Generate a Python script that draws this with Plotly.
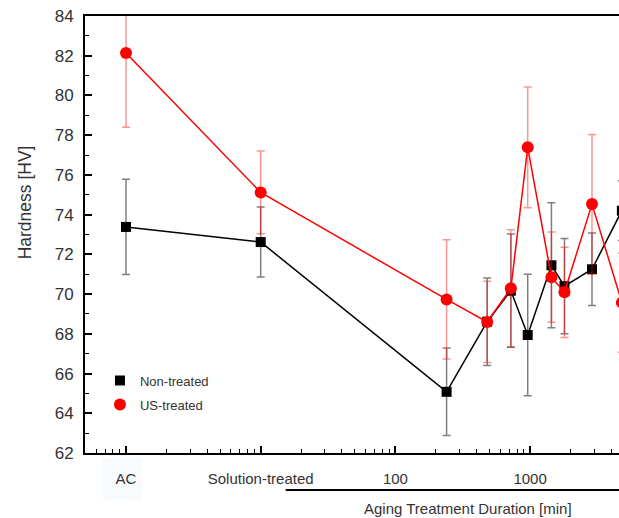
import plotly.graph_objects as go

# Data (x in minutes; AC and Solution-treated placed at 1 and 10 on log axis)
x_vals = [1, 10, 240, 480, 720, 960, 1440, 1800, 2880, 4800]
non_treated = [73.38, 72.62, 65.08, 68.61, 70.17, 67.94, 71.45, 70.40, 71.25, 74.20]
non_treated_err = [2.40, 1.76, 2.20, 2.20, 2.85, 3.06, 3.15, 2.40, 1.83, 1.50]
us_treated = [82.14, 75.12, 69.73, 68.60, 70.29, 77.39, 70.85, 70.09, 74.53, 69.57]
us_treated_err = [3.74, 2.08, 3.00, 2.05, 2.95, 3.04, 2.27, 2.27, 3.50, 2.50]

x_tickvals = [1, 10, 100, 1000]
x_ticktext = ["AC", "Solution-treated", "100", "1000"]
x_minor = [0.6, 0.7, 0.8, 0.9, 2, 3, 4, 5, 6, 7, 8, 9,
           20, 30, 40, 50, 60, 70, 80, 90, 200, 300, 400, 500, 600, 700, 800, 900,
           2000, 3000, 4000]
y_tickvals = list(range(62, 85, 2))
y_minor = list(range(63, 85, 2))

FONT = "Liberation Sans, Arial, sans-serif"

fig = go.Figure()

fig.add_trace(go.Scatter(
    x=x_vals, y=non_treated, mode="lines+markers", showlegend=False,
    line=dict(color="black", width=1.5),
    marker=dict(symbol="square", size=10, color="black"),
    error_y=dict(type="data", array=non_treated_err, visible=True,
                 color="rgba(0,0,0,0.5)", thickness=1.5, width=4),
))
fig.add_trace(go.Scatter(
    x=x_vals, y=us_treated, mode="lines+markers", showlegend=False,
    line=dict(color="#ff0000", width=1.5),
    marker=dict(symbol="circle", size=12, color="#ff0000"),
    error_y=dict(type="data", array=us_treated_err, visible=True,
                 color="rgba(255,0,0,0.42)", thickness=1.5, width=4),
))
# legend entries (markers only)
fig.add_trace(go.Scatter(
    x=[None], y=[None], mode="markers", name="Non-treated", legendgroup="a",
    marker=dict(symbol="square", size=10, color="black"),
))
fig.add_trace(go.Scatter(
    x=[None], y=[None], mode="markers", name="US-treated", legendgroup="b",
    marker=dict(symbol="circle", size=12, color="#ff0000"),
))

fig.update_layout(
    width=619, height=518,
    margin=dict(l=85, r=0, t=16, b=65),
    paper_bgcolor="white", plot_bgcolor="white",
    font=dict(family=FONT, color="#333333"),
    showlegend=True,
    legend=dict(x=0.028, y=0.2, xanchor="left", yanchor="top",
                bgcolor="rgba(0,0,0,0)", font=dict(size=13, color="#333333"),
                tracegroupgap=4, itemsizing="trace"),
    xaxis=dict(
        type="log", range=[-0.3044, 3.660],
        tickmode="array", tickvals=x_tickvals, ticktext=x_ticktext,
        ticks="inside", ticklen=7, tickwidth=1.5, tickcolor="black",
        showline=True, linecolor="black", linewidth=2, mirror=True,
        showgrid=False, zeroline=False,
        tickfont=dict(size=15, color="#333333", family=FONT),
        ticklabelstandoff=11,
        minor=dict(tickmode="array", tickvals=x_minor, ticks="inside",
                   ticklen=4, tickwidth=1.2, tickcolor="black", showgrid=False),
    ),
    yaxis=dict(
        range=[62, 84], tickmode="array", tickvals=y_tickvals,
        ticks="inside", ticklen=7, tickwidth=1.5, tickcolor="black",
        showline=True, linecolor="black", linewidth=2,
        showgrid=False, zeroline=False,
        tickfont=dict(size=17, color="#333333", family=FONT),
        ticklabelstandoff=6,
        minor=dict(tickmode="array", tickvals=y_minor, ticks="inside",
                   ticklen=4, tickwidth=1.2, tickcolor="black", showgrid=False),
    ),
)

# faint box behind "AC" label
fig.add_shape(type="rect", xref="paper", yref="paper",
              x0=0.0337, x1=0.1067, y0=-0.1076, y1=-0.0114,
              fillcolor="#f7fbfd", line=dict(width=0), layer="below")
# bracket line under aging labels
fig.add_shape(type="line", xref="paper", yref="paper",
              x0=0.3758, x1=1.0, y0=-0.0847, y1=-0.0847,
              line=dict(color="black", width=2))

fig.add_annotation(text="Aging Treatment Duration [min]", xref="paper", yref="paper",
                   x=0.717, y=-0.1259, showarrow=False, xanchor="center", yanchor="middle",
                   font=dict(size=15, color="#333333", family=FONT))
fig.add_annotation(text="Hardness [HV]", xref="paper", yref="paper",
                   x=-0.112, y=0.574, showarrow=False, textangle=-90,
                   xanchor="center", yanchor="middle",
                   font=dict(size=17.5, color="#333333", family=FONT))

fig.write_html("out.html")
